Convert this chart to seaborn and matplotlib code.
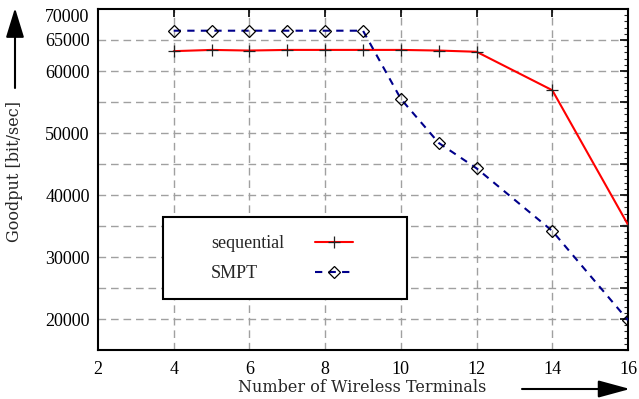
import matplotlib
matplotlib.use('Agg')
import matplotlib.pyplot as plt
from matplotlib.patches import Rectangle, FancyArrowPatch
from matplotlib.ticker import MultipleLocator, FixedLocator
import seaborn as sns

# number of terminals
terminals = [4, 5, 6, 7, 8, 9, 10, 11, 12, 14, 16]
# goodput [bit/sec]
sequential = [63200, 63400, 63300, 63400, 63400, 63400, 63400, 63300, 63100, 56900, 35200]
smpt = [66500, 66500, 66500, 66500, 66500, 66500, 55500, 48400, 44300, 34200, 19800]

y_ticks = [20000, 25000, 30000, 35000, 40000, 45000, 50000, 55000, 60000, 65000, 70000]
y_labels = ['20000', '', '30000', '', '40000', '', '50000', '', '60000', '65000', '70000']
x_ticks = [2, 4, 6, 8, 10, 12, 14, 16]

sns.set_style('white')
plt.rcParams['font.family'] = ['Liberation Serif', 'DejaVu Serif']

W, H = 639, 399
fig = plt.figure(figsize=(W / 100, H / 100), dpi=100)
ax = fig.add_axes([98 / W, 49 / H, 530 / W, 341 / H])

sns.lineplot(x=terminals, y=sequential, ax=ax, color='red', linewidth=1.5,
             marker='+', markersize=8, markeredgecolor='#222222', markeredgewidth=0.9,
             label='sequential', zorder=3)
sns.lineplot(x=terminals, y=smpt, ax=ax, color='#00008b', linewidth=1.5,
             linestyle=(0, (3.5, 3)), marker='D', markersize=6,
             markerfacecolor='none', markeredgecolor='black', markeredgewidth=0.9,
             label='SMPT', zorder=3)

ax.set_xlim(2, 16)
ax.set_ylim(15000, 70000)
ax.xaxis.set_major_locator(FixedLocator(x_ticks))
ax.yaxis.set_major_locator(FixedLocator(y_ticks))
ax.set_yticklabels(y_labels)
ax.yaxis.set_minor_locator(MultipleLocator(1000))
ax.tick_params(which='major', direction='in', length=6, width=1.2,
               top=True, right=True, labelsize=13, colors='black', pad=6)
ax.tick_params(which='minor', direction='in', length=3, width=0.8,
               left=False, right=True)
ax.tick_params(axis='x', pad=8)
ax.get_yticklabels()[-1].set_va('top')

# dashed grid (not on the frame)
for xv in x_ticks[1:-1]:
    ax.axvline(xv, color='#a0a0a0', linestyle=(0, (5.5, 3.5)), linewidth=1, zorder=0)
for yv in y_ticks[:-1]:
    ax.axhline(yv, color='#a0a0a0', linestyle=(0, (5.5, 3.5)), linewidth=1, zorder=0)

for sp in ax.spines.values():
    sp.set_visible(True)
    sp.set_color('black')
    sp.set_linewidth(1.5)

ax.set_xlabel('')
ax.set_ylabel('')

# legend: white box with black frame, text left, sample right
x0, x1 = 98, 628
y0, y1 = 9, 350


def ax_frac(px, py):
    return (px - x0) / (x1 - x0), (y1 - py) / (y1 - y0)


bx, by = ax_frac(163, 299)
bx2, by2 = ax_frac(407, 217)
ax.add_patch(Rectangle((bx, by), bx2 - bx, by2 - by, transform=ax.transAxes,
                       facecolor='white', edgecolor='black', linewidth=1.5, zorder=4))
lx, ly = ax_frac(211, 235)
leg = ax.legend(loc='upper left', bbox_to_anchor=(lx, ly), markerfirst=False,
                frameon=False, fontsize=13, handlelength=2.1, handletextpad=1.72,
                borderpad=0, borderaxespad=0, labelspacing=0.72)
leg.set_zorder(5)
fig.canvas.draw()
col = leg._legend_handle_box.get_children()[0]
col.align = 'left'
widths = [t.get_window_extent().width for t in leg.get_texts()]
for item, w in zip(col.get_children(), widths):
    item.sep += (max(widths) - w) * 72 / fig.dpi

# axis labels with arrows, drawn in figure coordinates
fig.text(362 / W, 1 - 387 / H, 'Number of Wireless Terminals', ha='center', va='center',
         fontsize=11.5, family='DejaVu Serif')
fig.text(15 / W, 1 - 172 / H, 'Goodput [bit/sec]', ha='center', va='center',
         rotation=90, fontsize=11.5, family='DejaVu Serif')
fig.add_artist(FancyArrowPatch(
    (522 / W, 1 - 389 / H), (630 / W, 1 - 389 / H), transform=fig.transFigure,
    arrowstyle='-|>,head_length=1.4,head_width=0.38', mutation_scale=14,
    shrinkA=0, shrinkB=0, color='black', linewidth=1.5))
fig.add_artist(FancyArrowPatch(
    (15 / W, 1 - 88 / H), (15 / W, 1 - 8 / H), transform=fig.transFigure,
    arrowstyle='-|>,head_length=1.3,head_width=0.4', mutation_scale=14,
    shrinkA=0, shrinkB=0, color='black', linewidth=1.5))

plt.savefig('out.png', dpi=100)
